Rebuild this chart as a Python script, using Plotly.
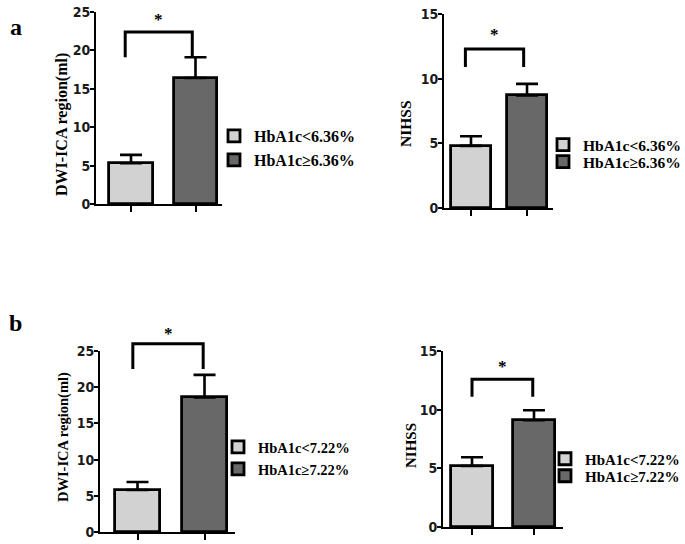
import plotly.graph_objects as go

# ---------------- data ----------------
groups_a = ["HbA1c<6.36%", "HbA1c≥6.36%"]
groups_b = ["HbA1c<7.22%", "HbA1c≥7.22%"]

dwi_a_mean = [5.3, 16.4]
dwi_a_sem = [1.1, 2.7]
nihss_a_mean = [4.8, 8.7]
nihss_a_sem = [0.75, 0.9]

dwi_b_mean = [5.8, 18.6]
dwi_b_sem = [1.1, 3.1]
nihss_b_mean = [5.2, 9.1]
nihss_b_sem = [0.75, 0.85]

y_titles = ["DWI-ICA region(ml)", "NIHSS", "DWI-ICA region(ml)", "NIHSS"]
y_max = [25, 15, 25, 15]
y_dtick = [5, 5, 5, 5]
sig_label = "*"

# ---------------- styling / layout ----------------
W, H = 685, 544
LIGHT = "#d2d2d2"
DARK = "#686868"
SERIF = "Liberation Serif, Times New Roman, serif"
SANS = "Liberation Sans Narrow, DejaVu Sans Condensed, Liberation Sans, Arial, sans-serif"

# pixel boxes of each plot area: (left, right, top, bottom)
boxes = [(96, 222, 12, 204), (444, 553, 14, 208), (100, 235, 351, 532), (443, 563, 351, 527)]
xranges = [[0.457, 2.411], [0.518, 2.464], [0.44, 2.455], [0.532, 2.468]]
bar_w = [0.68, 0.70, 0.67, 0.68]
# bracket: x_left, x_right, leg bottom (data), top (data), star (data)
brackets = [(0.91, 1.95, 19.1, 22.4, 24.0), (0.90, 1.94, 10.9, 12.3, 13.4),
            (0.93, 1.98, 22.5, 26.0, 27.4), (1.00, 1.98, 11.1, 12.6, 13.7)]
# legend entries: text start x, row centre y (two rows)
legend_text_x = [253, 582, 257, 584]
legend_rows = [(136, 160), (145, 162), (447, 469), (459, 476)]
ytitle_pos = [(62, 125), (406, 124), (63, 437), (411, 446)]
font_scale = [16, 15.5, 14.5, 15]

panels = [
    (groups_a, dwi_a_mean, dwi_a_sem),
    (groups_a, nihss_a_mean, nihss_a_sem),
    (groups_b, dwi_b_mean, dwi_b_sem),
    (groups_b, nihss_b_mean, nihss_b_sem),
]

fig = go.Figure()
layout = dict(width=W, height=H, margin=dict(l=0, r=0, t=0, b=0, autoexpand=False),
              plot_bgcolor="white", paper_bgcolor="white",
              showlegend=True, bargap=0, barmode="overlay")
shapes = []
annotations = []

leg_idx = 0
for i, (groups, means, sems) in enumerate(panels):
    n = "" if i == 0 else str(i + 1)
    xa, ya = "x" + n, "y" + n
    for j, (g, m, s, c) in enumerate(zip(groups, means, sems, [LIGHT, DARK])):
        leg_idx += 1
        lg = "legend" if leg_idx == 1 else "legend" + str(leg_idx)
        fig.add_trace(go.Bar(
            x=[j + 1], y=[m], name=g, width=bar_w[i], xaxis=xa, yaxis=ya,
            marker=dict(color=c, line=dict(color="black", width=2.8)),
            error_y=dict(type="data", symmetric=False, array=[s], arrayminus=[0],
                         color="black", thickness=2.6, width=11),
            legend=lg,
        ))
        layout[lg] = dict(x=(legend_text_x[i] - 39) / W, y=1 - legend_rows[i][j] / H,
                          xanchor="left", yanchor="middle",
                          bgcolor="rgba(0,0,0,0)", itemwidth=30,
                          font=dict(family=SERIF, size=font_scale[i], color="black", weight="bold"))
    l, r, t, b = boxes[i]
    layout["xaxis" + n] = dict(domain=[l / W, r / W], range=xranges[i], anchor=ya,
                               showline=True, linecolor="black", linewidth=2,
                               ticks="outside", ticklen=6, tickwidth=2, tickcolor="black",
                               tickvals=[1, 2], showticklabels=False, showgrid=False,
                               zeroline=False, fixedrange=True)
    layout["yaxis" + n] = dict(domain=[1 - b / H, 1 - t / H], range=[0, y_max[i]], anchor=xa,
                               showline=True, linecolor="black", linewidth=2,
                               ticks="outside", ticklen=4, tickwidth=2, tickcolor="black",
                               dtick=y_dtick[i], showgrid=False, zeroline=False,
                               ticklabelstandoff=-3,
                               tickfont=dict(family=SANS, size=14, color="#1a1a1a", weight="bold"),
                               fixedrange=True)
    # significance bracket
    x0, x1, yl, yt, ys = brackets[i]
    ymx = y_max[i]
    shapes.append(dict(type="path", xref=xa, yref=ya + " domain",
                       path=f"M {x0} {yl / ymx} L {x0} {yt / ymx} L {x1} {yt / ymx} L {x1} {yl / ymx}",
                       line=dict(color="black", width=3)))
    annotations.append(dict(x=(x0 + x1) / 2, y=ys / ymx, xref=xa, yref=ya + " domain",
                            text=sig_label, showarrow=False, yanchor="middle",
                            font=dict(family=SERIF, size=17, color="black", weight="bold")))
    tx, ty = ytitle_pos[i]
    annotations.append(dict(x=tx / W, y=1 - ty / H, xref="paper", yref="paper",
                            text=y_titles[i], textangle=-90, showarrow=False,
                            xanchor="center", yanchor="middle",
                            font=dict(family=SERIF, size=font_scale[i], color="black", weight="bold")))

annotations.append(dict(x=16 / W, y=1 - 27 / H, xref="paper", yref="paper", text="a",
                        xanchor="center", yanchor="middle", showarrow=False,
                        font=dict(family=SERIF, size=24, color="black", weight="bold")))
annotations.append(dict(x=16 / W, y=1 - 323 / H, xref="paper", yref="paper", text="b",
                        xanchor="center", yanchor="middle", showarrow=False,
                        font=dict(family=SERIF, size=24, color="black", weight="bold")))

layout["shapes"] = shapes
layout["annotations"] = annotations
fig.update_layout(**layout)
fig.write_html("out.html", config={"displayModeBar": False},
               post_script="document.body.style.margin='0';")
